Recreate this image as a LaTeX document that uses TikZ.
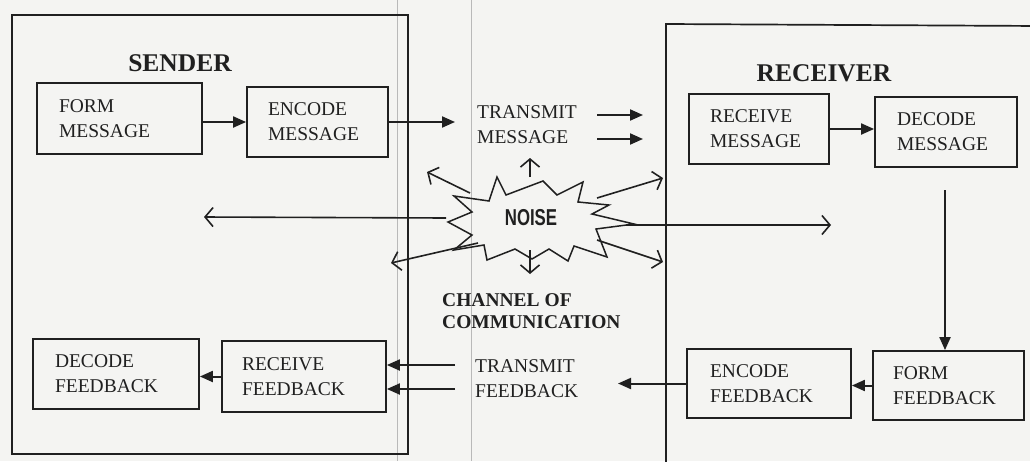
\documentclass[tikz,border=0pt]{standalone}
\usepackage{fontspec}
\setmainfont{Liberation Serif}
\newfontfamily\noisefont{Liberation Sans}
\usetikzlibrary{arrows.meta}
\definecolor{ink}{RGB}{32,32,32}
\definecolor{paper}{RGB}{244,244,242}
\definecolor{fold}{RGB}{185,185,185}
\begin{document}
\begin{tikzpicture}[x=1pt,y=-1pt,
  every node/.style={text=ink},
  box/.style={draw=ink, line width=1.8pt, align=left, anchor=center, inner ysep=0pt,
              font=\fontsize{19.5}{25}\selectfont},
  frame/.style={draw=ink, line width=1.7pt},
  arr/.style={draw=ink, line width=2pt, -{Triangle[length=13pt,width=11pt]}},
  noisearr/.style={draw=ink, line width=1.6pt, -{Straight Barb[length=8pt,width=19pt]}},
  title/.style={font=\bfseries\fontsize{25.5}{28}\selectfont},
  plain/.style={align=left, anchor=west, inner sep=0pt, font=\fontsize{19.5}{25}\selectfont},
]
\useasboundingbox (0,0) rectangle (1030,461);
\clip (0,0) rectangle (1030,461);
\fill[paper] (0,0) rectangle (1030,461);

% faint fold lines of the scanned page
\draw[fold, line width=0.9pt] (397,0) -- (397,461);
\draw[fold, line width=0.9pt] (471,0) -- (471,461);

% sender and receiver frames
\draw[frame] (12,15) rectangle (408,454);
\draw[frame] (1040,26) -- (666,24) -- (666,470);

\node[title] (sender) at (180,63) {SENDER};
\node[title] (receiver) at (824,73) {RECEIVER};

% boxes
\node[box, minimum width=165pt, minimum height=71pt, inner xsep=22pt, text width=121pt] (fm) at (119.5,118.5) {FORM\\MESSAGE};
\node[box, minimum width=141pt, minimum height=70pt, inner xsep=21pt, text width=99pt] (em) at (317.5,122) {ENCODE\\MESSAGE};
\node[box, minimum width=140pt, minimum height=70pt, inner xsep=21pt, text width=98pt] (rm) at (759,129) {RECEIVE\\MESSAGE};
\node[box, minimum width=142pt, minimum height=70pt, inner xsep=22pt, text width=98pt] (dm) at (946,132) {DECODE\\MESSAGE};
\node[box, minimum width=166pt, minimum height=70pt, inner xsep=22pt, text width=122pt] (df) at (116,374) {DECODE\\FEEDBACK};
\node[box, minimum width=164pt, minimum height=71pt, inner xsep=20pt, text width=124pt] (rf) at (304,376.5) {RECEIVE\\FEEDBACK};
\node[box, minimum width=164pt, minimum height=69pt, inner xsep=23pt, text width=118pt] (ef) at (769,383.5) {ENCODE\\FEEDBACK};
\node[box, minimum width=151pt, minimum height=69pt, inner xsep=20pt, text width=111pt] (ff) at (948.5,385.5) {FORM\\FEEDBACK};

% channel texts
\node[plain] (tm) at (477,125) {TRANSMIT\\MESSAGE};
\node[plain] (tf) at (475,379) {TRANSMIT\\FEEDBACK};
\node[plain, font=\bfseries\fontsize{19.5}{22}\selectfont] (ch) at (442,311) {CHANNEL OF\\COMMUNICATION};

% noise burst
\draw[ink, line width=1.5pt, line join=miter]
  (497,177) -- (506,195) -- (543,181) -- (557,195) -- (583,182) -- (578,202)
  -- (609,205) -- (592,214) -- (634,224) -- (596,229) -- (607,257) -- (574,246)
  -- (568,261) -- (549,249) -- (532,259) -- (515,249) -- (487,260) -- (484,245)
  -- (454,250) -- (472,235) -- (448,222) -- (472,212) -- (454,196) -- (489,201) -- cycle;
\node[inner sep=0pt, font=\noisefont\bfseries\fontsize{23}{23}\selectfont] (noise) at (531,218) {\scalebox{0.73}[1]{NOISE}};

% coordinates for free ends
\coordinate (tmin) at (455,122);
\coordinate (tma1) at (597,115); \coordinate (tmb1) at (643,115);
\coordinate (tma2) at (597,139); \coordinate (tmb2) at (643,139);
\coordinate (dmout) at (945,190);
\coordinate (efout) at (618,383);
\coordinate (tfa) at (455,365);
\coordinate (tfb) at (455,389);

\coordinate (nUs) at (530,177); \coordinate (nUe) at (530,158);
\coordinate (nDs) at (530,250); \coordinate (nDe) at (530,274);
\coordinate (nLUs) at (470,193); \coordinate (nLUe) at (427,172);
\coordinate (nLs) at (446,218); \coordinate (nLe) at (204,217);
\coordinate (nLDs) at (478,243); \coordinate (nLDe) at (391,263);
\coordinate (nRUs) at (597,198); \coordinate (nRUe) at (663,178);
\coordinate (nRs) at (626,225); \coordinate (nRe) at (831,225);
\coordinate (nRDs) at (597,240); \coordinate (nRDe) at (663,262);

% message flow
\draw[arr] (fm.east |- em) -- (em.west);
\draw[arr] (em.east) -- (tmin);
\draw[arr] (tma1) -- (tmb1);
\draw[arr] (tma2) -- (tmb2);
\draw[arr] (rm.east) -- (dm.west |- rm);
\draw[arr] (dmout) -- (dmout |- ff.north);
\draw[arr] (ff.west) -- (ef.east |- ff.west);
\draw[arr] (ef.west) -- (efout |- ef.west);
\draw[arr] (tfa) -- (rf.east |- tfa);
\draw[arr] (tfb) -- (rf.east |- tfb);
\draw[arr] (rf.west) -- (df.east |- rf.west);

% noise arrows
\draw[noisearr] (nUs) -- (nUe);
\draw[noisearr] (nDs) -- (nDe);
\draw[noisearr] (nLUs) -- (nLUe);
\draw[noisearr] (nLs) -- (nLe);
\draw[noisearr] (nLDs) -- (nLDe);
\draw[noisearr] (nRUs) -- (nRUe);
\draw[noisearr] (nRs) -- (nRe);
\draw[noisearr] (nRDs) -- (nRDe);
\end{tikzpicture}
\end{document}
